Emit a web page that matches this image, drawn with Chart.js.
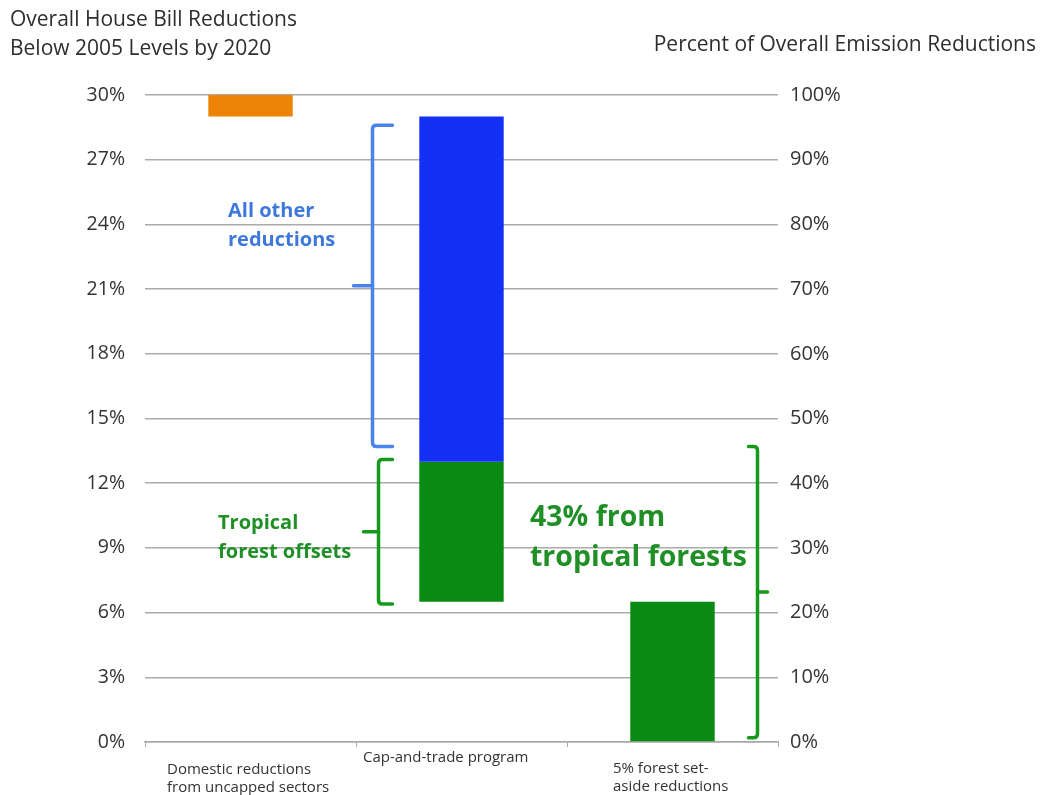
<!DOCTYPE html>
<html>
<head>
<meta charset="utf-8">
<script src="https://cdn.jsdelivr.net/npm/chart.js@4.4.1/dist/chart.umd.min.js"></script>
<style>
  html, body { margin: 0; padding: 0; background: #ffffff; }
  #wrap { width: 1040px; height: 795px; position: relative; }
</style>
</head>
<body>
<div id="wrap"><canvas id="chart" width="1040" height="795"></canvas></div>
<script>
// Categories along the bottom
const categories = [
  ["Domestic reductions", "from uncapped sectors"],
  ["Cap-and-trade program"],
  ["5% forest set-", "aside reductions"]
];

// Floating bar ranges, % reductions below 2005 levels
const uncappedSectors = [[29, 30], null, null];
const allOtherReductions = [null, [13, 29], null];
const tropicalForest = [null, [6.5, 13], [0, 6.5]];

// Axis ticks
const leftTicks = [0, 3, 6, 9, 12, 15, 18, 21, 24, 27, 30];
const rightTicks = [0, 10, 20, 30, 40, 50, 60, 70, 80, 90, 100];

// Bracket spans (same units as the left axis)
const bracketNames = ["All other reductions", "Tropical forest offsets", "43% from tropical forests"];
const bracketLow = [13.7, 6.4, 0.2];
const bracketHigh = [28.6, 13.1, 13.7];

// Callout texts
const calloutLines = [
  ["All other", "reductions"],
  ["Tropical", "forest offsets"],
  ["43% from", "tropical forests"]
];

const FONT = "'Open Sans', Lato, sans-serif";
const BLUE_TXT = "#3f78dd";
const GREEN_TXT = "#1f8f26";

const annotations = {
  id: "annotations",
  afterDatasetsDraw(chart) {
    const { ctx, scales: { x, y } } = chart;
    const cx = i => x.getPixelForValue(i);
    ctx.save();

    // Brackets: vertical spine, end arms and a centre nib
    const bracketStyle = [
      { xv: cx(1) - 89, arm: 20, nib: -19, color: "#4a84ea" },
      { xv: cx(1) - 83, arm: 14, nib: -15, color: "#179a1c" },
      { xv: cx(2) + 85, arm: -9, nib: 10, color: "#179a1c" }
    ];
    bracketStyle.forEach((s, i) => {
      const yt = y.getPixelForValue(bracketHigh[i]);
      const yb = y.getPixelForValue(bracketLow[i]);
      const ym = (yt + yb) / 2;
      const r = 4;
      const sg = Math.sign(s.arm);
      ctx.strokeStyle = s.color;
      ctx.lineWidth = 3.5;
      ctx.lineCap = "round";
      ctx.lineJoin = "round";
      ctx.beginPath();
      ctx.moveTo(s.xv + s.arm, yt);
      ctx.lineTo(s.xv + sg * r, yt);
      ctx.quadraticCurveTo(s.xv, yt, s.xv, yt + r);
      ctx.lineTo(s.xv, yb - r);
      ctx.quadraticCurveTo(s.xv, yb, s.xv + sg * r, yb);
      ctx.lineTo(s.xv + s.arm, yb);
      ctx.stroke();
      ctx.beginPath();
      ctx.moveTo(s.xv, ym);
      ctx.lineTo(s.xv + s.nib, ym);
      ctx.stroke();
    });

    // Callout texts
    const callouts = [
      { x: 228, v: [24.6, 23.25], size: 20, color: BLUE_TXT },
      { x: 218, v: [10.15, 8.8], size: 20, color: GREEN_TXT },
      { x: 530, v: [10.4, 8.55], size: 28.5, color: GREEN_TXT }
    ];
    ctx.textBaseline = "middle";
    ctx.textAlign = "left";
    callouts.forEach((c, i) => {
      ctx.fillStyle = c.color;
      ctx.font = "bold " + c.size + "px " + FONT;
      calloutLines[i].forEach((line, j) => {
        ctx.fillText(line, c.x, y.getPixelForValue(c.v[j]));
      });
    });

    // Category labels under the axis
    const catPos = [
      { dx: -83.5, y0: 770 },
      { dx: -98.5, y0: 758 },
      { dx: -59.5, y0: 769 }
    ];
    ctx.fillStyle = "#333333";
    ctx.font = "15px " + FONT;
    categories.forEach((lines, i) => {
      lines.forEach((line, j) => {
        ctx.fillText(line, cx(i) + catPos[i].dx, catPos[i].y0 + j * 18);
      });
    });

    // Axis titles
    ctx.font = "21px " + FONT;
    ctx.fillStyle = "#2e2e2e";
    ctx.fillText("Overall House Bill Reductions", 10, 20);
    ctx.fillText("Below 2005 Levels by 2020", 10, 49);
    ctx.textAlign = "right";
    ctx.fillText("Percent of Overall Emission Reductions", 1036, 45);
    ctx.restore();
  }
};

new Chart(document.getElementById("chart"), {
  type: "bar",
  data: {
    labels: categories,
    datasets: [
      { label: "Uncapped sectors", data: uncappedSectors, backgroundColor: "#ee8406", yAxisID: "y" },
      { label: "All other reductions", data: allOtherReductions, backgroundColor: "#1430f4", yAxisID: "y" },
      { label: "Tropical forest offsets", data: tropicalForest, backgroundColor: "#098a12", yAxisID: "y" }
    ]
  },
  options: {
    responsive: false,
    animation: false,
    devicePixelRatio: 1,
    layout: { padding: { top: 95, right: 0, left: 0, bottom: 0 } },
    datasets: { bar: { grouped: false, barPercentage: 0.4, categoryPercentage: 1, borderWidth: 0 } },
    plugins: { legend: { display: false }, tooltip: { enabled: false } },
    scales: {
      x: {
        offset: true,
        grid: { offset: true, drawOnChartArea: false, drawTicks: true, tickLength: 5, color: "#a8a8a8" },
        border: { display: true, color: "#a8a8a8", width: 1.5 },
        ticks: { display: false },
        afterFit(s) { s.height = 53; }
      },
      y: {
        position: "left",
        min: 0, max: 30,
        afterBuildTicks(s) { s.ticks = leftTicks.map(v => ({ value: v })); },
        ticks: {
          padding: 20,
          color: "#333333",
          font: { size: 19.5, family: FONT },
          callback: v => v + "%"
        },
        grid: { color: "#ababab", lineWidth: 1.5, drawTicks: false },
        border: { display: false },
        afterFit(s) { s.width = 145; }
      },
      y2: {
        position: "right",
        min: 0, max: 100,
        afterBuildTicks(s) { s.ticks = rightTicks.map(v => ({ value: v })); },
        ticks: {
          padding: 12,
          color: "#333333",
          font: { size: 20, family: FONT },
          callback: v => v + "%"
        },
        grid: { drawOnChartArea: false, drawTicks: false },
        border: { display: false },
        afterFit(s) { s.width = 262; }
      }
    }
  },
  plugins: [annotations]
});
</script>
</body>
</html>
